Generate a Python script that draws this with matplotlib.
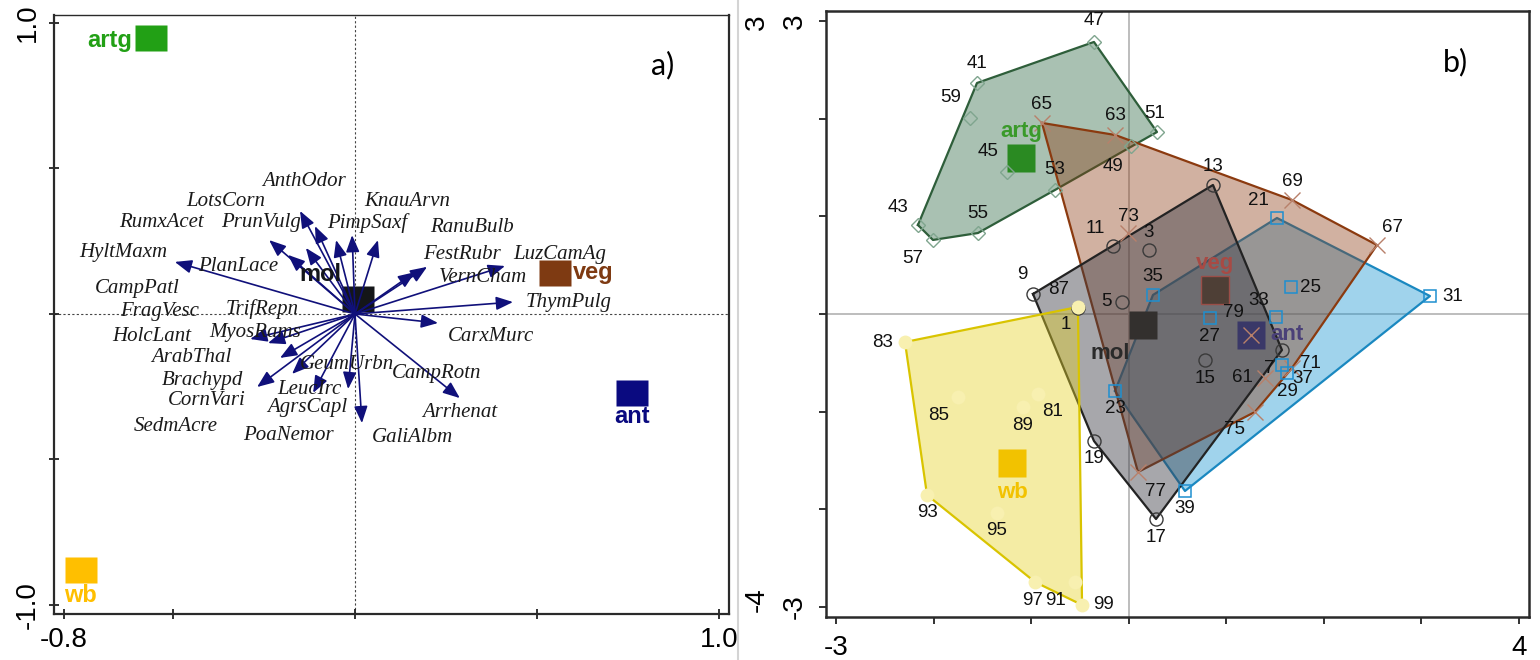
import numpy as np
import matplotlib
matplotlib.use("Agg")
import matplotlib.pyplot as plt
from matplotlib.lines import Line2D

# ---------------- Panel a data ----------------
arrow_names = ["HyltMaxm", "RumxAcet", "PlanLace", "LotsCorn", "PrunVulg", "AnthOdor",
               "CampPatl", "PimpSaxf", "KnauArvn", "VernCham", "FestRubr", "LuzCamAg",
               "ThymPulg", "CarxMurc", "Arrhenat", "GaliAlbm", "AgrsCapl", "LeucIrc",
               "GeumUrbn", "ArabThal", "MyosRams", "HolcLant", "Brachypd"]
arrow_x = [-0.495, -0.236, -0.184, -0.151, -0.135, -0.110, -0.052, -0.008, 0.063, 0.165,
           0.198, 0.412, 0.434, 0.228, 0.288, 0.019, -0.019, -0.115, -0.173, -0.206,
           -0.239, -0.288, -0.269]
arrow_y = [0.179, 0.254, 0.203, 0.354, 0.227, 0.302, 0.254, 0.271, 0.254, 0.144,
           0.162, 0.165, 0.041, -0.031, -0.289, -0.375, -0.258, -0.271, -0.206, -0.151,
           -0.100, -0.086, -0.251]

label_names = ["AnthOdor", "LotsCorn", "RumxAcet", "PrunVulg", "PimpSaxf", "KnauArvn",
               "RanuBulb", "HyltMaxm", "PlanLace", "FestRubr", "LuzCamAg", "VernCham",
               "CampPatl", "ThymPulg", "FragVesc", "TrifRepn", "MyosRams", "HolcLant",
               "CarxMurc", "ArabThal", "GeumUrbn", "CampRotn", "Brachypd", "LeucIrc",
               "CornVari", "AgrsCapl", "Arrhenat", "SedmAcre", "PoaNemor", "GaliAlbm"]
label_x = [-0.140, -0.354, -0.533, -0.258, 0.033, 0.143, 0.321, -0.637, -0.321, 0.294,
           0.563, 0.352, -0.599, 0.588, -0.538, -0.255, -0.275, -0.558, 0.374, -0.451,
           -0.022, 0.223, -0.420, -0.126, -0.407, -0.132, 0.288, -0.492, -0.184, 0.157]
label_y = [0.457, 0.385, 0.316, 0.313, 0.313, 0.385, 0.296, 0.210, 0.162, 0.206,
           0.206, 0.124, 0.089, 0.041, 0.007, 0.017, -0.062, -0.076, -0.076, -0.148,
           -0.172, -0.206, -0.230, -0.261, -0.299, -0.320, -0.337, -0.388, -0.416, -0.423]

groups = ["artg", "mol", "veg", "ant", "wb"]
group_a_x = [-0.560, 0.008, 0.549, 0.761, -0.753]
group_a_y = [0.948, 0.052, 0.141, -0.271, -0.880]
group_a_color = {"artg": "#22A015", "mol": "#141619", "veg": "#7E3A12",
                 "ant": "#0A0A80", "wb": "#FFBF00"}

# ---------------- Panel b data ----------------
plot_ids = {
    "mol":  [1, 3, 5, 7, 9, 11, 13, 15, 17, 19],
    "ant":  [21, 23, 25, 27, 29, 31, 33, 35, 37, 39],
    "artg": [41, 43, 45, 47, 49, 51, 53, 55, 57, 59],
    "veg":  [61, 63, 65, 67, 69, 71, 73, 75, 77, 79],
    "wb":   [81, 83, 85, 87, 89, 91, 93, 95, 97, 99],
}
plot_x = {
    "mol":  [-0.52, 0.208, -0.069, 1.571, -0.981, -0.161, 0.864, 0.782, 0.28, -0.356],
    "ant":  [1.52, -0.14, 1.663, 0.833, 1.622, 3.088, 1.51, 0.249, 1.571, 0.577],
    "artg": [-1.555, -2.16, -1.247, -0.356, 0.024, 0.29, -0.755, -1.545, -2.006, -1.627],
    "veg":  [1.397, -0.14, -0.889, 2.545, 1.674, 1.674, -0.007, 1.294, 0.095, 1.254],
    "wb":   [-0.93, -2.293, -1.75, -0.52, -1.083, -0.55, -2.067, -1.35, -0.96, -0.478],
}
plot_y = {
    "mol":  [0.062, 0.655, 0.123, -0.369, 0.205, 0.696, 1.321, -0.471, -2.099, -1.30],
    "ant":  [0.983, -0.788, 0.276, -0.041, -0.604, 0.184, -0.031, 0.195, -0.522, -1.812],
    "artg": [2.365, 0.911, 1.454, 2.785, 1.72, 1.863, 1.27, 0.829, 0.758, 2.007],
    "veg":  [-0.655, 1.833, 1.956, 0.706, 1.167, -0.553, 0.829, -1.003, -1.618, -0.215],
    "wb":   [-0.819, -0.287, -0.85, 0.072, -0.952, -2.744, -1.853, -2.037, -2.744, -2.979],
}
centroid_x = {"artg": -1.104, "mol": 0.146, "veg": 0.884, "ant": 1.254, "wb": -1.196}
centroid_y = {"artg": 1.597, "mol": -0.113, "veg": 0.246, "ant": -0.215, "wb": -1.526}

# ---------------- styles ----------------
poly_order = ["ant", "artg", "veg", "mol", "wb"]
poly_face = {"artg": ("#286440", 0.40), "veg": ("#8C3C14", 0.40), "mol": ("#3C3C46", 0.45),
             "ant": ("#1E96D2", 0.42), "wb": ("#E6D428", 0.42)}
poly_edge = {"artg": "#2E5E3A", "veg": "#8B3A0F", "mol": "#232323", "ant": "#1A88C0", "wb": "#D9C400"}
mk_style = {
    "artg": dict(marker="D", ms=6.8, mfc="none", mec="#7FA58E", mew=1.0),
    "mol":  dict(marker="o", ms=9.4, mfc="none", mec="#3A3A3A", mew=1.0),
    "ant":  dict(marker="s", ms=8.6, mfc="none", mec="#1E8FD0", mew=1.1),
    "veg":  dict(marker="x", ms=12, mec="#B8806A", mew=1.0),
    "wb":   dict(marker="o", ms=10, mfc="#F8F0B0", mec="none"),
}
cent_color = {"artg": "#2A8A22", "mol": "#33302E", "veg": "#4E3F36", "ant": "#3A3868", "wb": "#F2C200"}
cent_edge = {"artg": "none", "mol": "none", "veg": "#9A4E48", "ant": "none", "wb": "none"}
cent_label_color = {"artg": "#3A9A2A", "mol": "#2A2A2A", "veg": "#A84A44", "ant": "#4A4078", "wb": "#F2C200"}
cent_label_off_b = {"artg": (0, 27), "mol": (-33, -28), "veg": (0, 26), "ant": (36, 0), "wb": (0, -29)}
cent_label_off_a = {"artg": (-19, -2), "mol": (-38, 24), "veg": (38, 0), "ant": (0, -24), "wb": (0, -25)}

label_off = {
    1: (-12, -17), 3: (0, 18), 5: (-16, 0), 7: (-13, -18), 9: (-11, 19), 11: (-18, 18),
    13: (0, 18), 15: (0, -18), 17: (0, -18), 19: (0, -18),
    21: (-19, 17), 23: (0, -18), 25: (20, 0), 27: (0, -18), 29: (0, -19), 31: (23, 0),
    33: (-17, 17), 35: (0, 18), 37: (21, -14), 39: (0, -18),
    41: (0, 19), 43: (-20, 18), 45: (-19, 20), 47: (0, 21), 49: (-18, -21), 51: (-2, 19),
    53: (0, 20), 55: (0, 20), 57: (-20, -19), 59: (-19, 20),
    61: (-23, 0), 63: (0, 19), 65: (0, 18), 67: (16, 18), 69: (0, 19), 71: (18, 5),
    73: (0, 17), 75: (-20, -18), 77: (18, -19), 79: (-18, 22),
    81: (15, -18), 83: (-22, 0), 85: (-19, -18), 87: (-19, 17), 89: (0, -19), 91: (-20, -18),
    93: (0, -18), 95: (0, -18), 97: (-2, -18), 99: (21, 0),
}


def convex_hull(pts):
    pts = sorted(set(pts))
    if len(pts) < 3:
        return pts

    def cross(o, a, b):
        return (a[0] - o[0]) * (b[1] - o[1]) - (a[1] - o[1]) * (b[0] - o[0])
    lower, upper = [], []
    for p in pts:
        while len(lower) >= 2 and cross(lower[-2], lower[-1], p) <= 0:
            lower.pop()
        lower.append(p)
    for p in reversed(pts):
        while len(upper) >= 2 and cross(upper[-2], upper[-1], p) <= 0:
            upper.pop()
        upper.append(p)
    return lower[:-1] + upper[:-1]


SANS = ["Liberation Sans", "DejaVu Sans"]
SERIF = ["Liberation Serif", "DejaVu Serif"]
plt.rcParams["font.family"] = SANS

fig = plt.figure(figsize=(15.4, 6.6), dpi=100)
W, H = 1540.0, 660.0

# ================= Panel a =================
ax1 = fig.add_axes([54 / W, 1 - 614 / H, (729 - 54) / W, (614 - 15) / H])
ax1.set_xlim(-0.827, 1.0275)
ax1.set_ylim(-1.031, 1.0275)
ax1.axhline(0, color="#444444", lw=0.8, ls=(0, (2, 2)), zorder=1)
ax1.axvline(0, color="#444444", lw=0.8, ls=(0, (2, 2)), zorder=1)

for name, gx, gy in zip(groups, group_a_x, group_a_y):
    ax1.plot(gx, gy, linestyle="none",
             marker=[(-1, -0.79), (1, -0.79), (1, 0.79), (-1, 0.79), (-1, -0.79)],
             ms=23.5, mfc=group_a_color[name], mec="none", zorder=2)
    dx, dy = cent_label_off_a[name]
    ha = "right" if name == "artg" else "center"
    ax1.annotate(name, (gx, gy), xytext=(dx, dy),
                 textcoords="offset pixels", ha=ha, va="center",
                 fontsize=17, fontweight="bold", color=group_a_color[name], zorder=6)

for ax_, ay_ in zip(arrow_x, arrow_y):
    ax1.annotate("", xy=(ax_, ay_), xytext=(0, 0),
                 arrowprops=dict(arrowstyle="-|>,head_length=0.85,head_width=0.34",
                                 color="#10107A", lw=1.2, mutation_scale=12,
                                 shrinkA=0, shrinkB=0), zorder=3)

for n, lx, ly in zip(label_names, label_x, label_y):
    ax1.text(lx, ly, n, family=SERIF, style="italic", fontsize=15, color="#1A1A1A",
             ha="center", va="center", zorder=5)

ax1.set_xticks([-0.8, -0.5, 0, 0.5, 1.0])
ax1.set_xticklabels(["-0.8", "", "", "", "1.0"])
ax1.set_yticks([-1.0, -0.5, 0, 0.5, 1.0])
ax1.set_yticklabels(["-1.0", "", "", "", "1.0"])
ax1.tick_params(direction="inout", length=7, width=1.3, labelsize=20, pad=6, color="#222222")
for lab in ax1.get_yticklabels():
    lab.set_rotation(90)
    lab.set_va("center")
for s in ax1.spines.values():
    s.set_linewidth(1.6)
    s.set_color("#2A2A2A")
ax1.spines["top"].set_linewidth(1.0)
fig.text(663 / W, 1 - 65 / H, "a)", fontsize=22, family=["Lato", "DejaVu Sans"],
         ha="center", va="center")

# ================= Panel b =================
ax2 = fig.add_axes([826 / W, 1 - 617 / H, (1529 - 826) / W, (617 - 10.7) / H])
ax2.set_xlim(-3.1025, 4.103)
ax2.set_ylim(-3.102, 3.105)
ax2.axhline(0, color="#BDBDBD", lw=1.4, zorder=0.5)
ax2.axvline(0, color="#BDBDBD", lw=1.4, zorder=0.5)

for i, g in enumerate(poly_order):
    pts = list(zip(plot_x[g], plot_y[g]))
    hull = convex_hull(pts)
    fc, al = poly_face[g]
    z = 1 + i * 0.1
    ax2.fill([p[0] for p in hull], [p[1] for p in hull], facecolor=fc, alpha=al,
             edgecolor="none", zorder=z)
    hx = [p[0] for p in hull] + [hull[0][0]]
    hy = [p[1] for p in hull] + [hull[0][1]]
    ax2.plot(hx, hy, color=poly_edge[g], lw=1.6, zorder=z + 0.05)

for g in groups:
    ax2.plot(centroid_x[g], centroid_y[g], linestyle="none", marker="s", ms=19.5,
             mfc=cent_color[g], mec=cent_edge[g], mew=1.0, zorder=2)
    dx, dy = cent_label_off_b[g]
    ax2.annotate(g, (centroid_x[g], centroid_y[g]), xytext=(dx, dy),
                 textcoords="offset pixels", ha="center", va="center",
                 fontsize=16, fontweight="bold", color=cent_label_color[g], zorder=6)

for g in groups:
    ax2.plot(plot_x[g], plot_y[g], linestyle="none", zorder=3, **mk_style[g])
    for pid, px, py in zip(plot_ids[g], plot_x[g], plot_y[g]):
        dx, dy = label_off[pid]
        ax2.annotate(str(pid), (px, py), xytext=(dx, dy), textcoords="offset pixels",
                     ha="center", va="center", fontsize=13.5, color="#111111", zorder=5)

ax2.set_xticks(np.arange(-3, 5, 1))
ax2.set_xticklabels(["-3", "", "", "", "", "", "", "4"])
ax2.set_yticks(np.arange(-3, 4, 1))
ax2.set_yticklabels(["-3", "", "", "", "", "", "3"])
ax2.tick_params(direction="out", length=5, width=1.3, labelsize=20, pad=8, color="#222222")
for lab in ax2.get_yticklabels():
    lab.set_rotation(90)
    lab.set_va("center")
for s in ax2.spines.values():
    s.set_linewidth(1.8)
    s.set_color("#2A2A2A")
fig.text(757 / W, 1 - 22 / H, "3", rotation=90, fontsize=20, ha="center", va="center")
fig.text(757 / W, 1 - 600 / H, "-4", rotation=90, fontsize=20, ha="center", va="center")
fig.text(1455 / W, 1 - 62 / H, "b)", fontsize=22, family=["Lato", "DejaVu Sans"],
         ha="center", va="center")

fig.add_artist(Line2D([738 / W, 738 / W], [0, 1], color="#D4D4D4", lw=1.5,
                      transform=fig.transFigure))

fig.savefig("out.png", dpi=100)
